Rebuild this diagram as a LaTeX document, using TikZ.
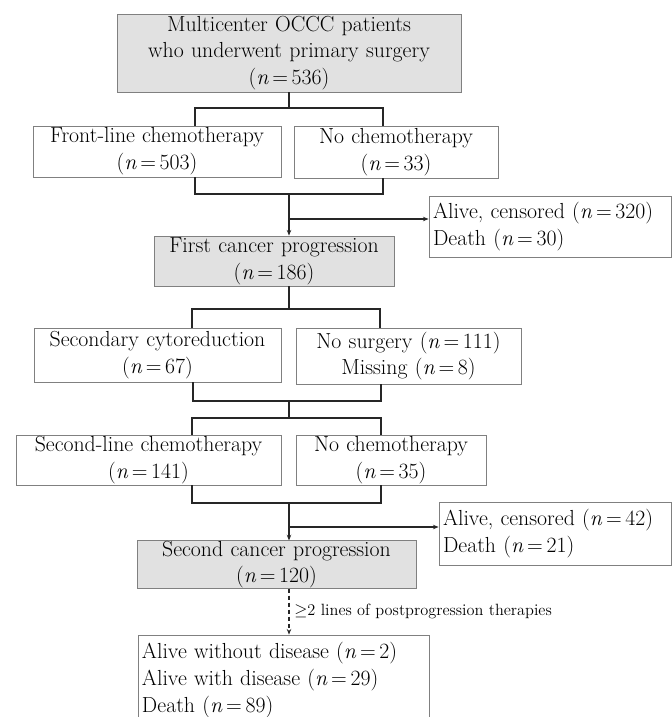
\documentclass[tikz,border=0pt]{standalone}
\usepackage{amsmath,amssymb}
\usepackage{tikz}
\usetikzlibrary{calc, arrows, arrows.meta}
\definecolor{boxgray}{RGB}{225,225,225}
\definecolor{edgegray}{RGB}{128,128,128}
\newcommand{\boxfont}{\fontsize{15.5}{19}\selectfont}
\newcommand{\notefont}{\fontsize{11.6}{14}\selectfont}
\newcommand{\nn}[1]{(\textit{n}\,=\,#1)}
\tikzset{
  box/.style={draw=edgegray, line width=0.6pt, font=\boxfont, align=center, inner xsep=1mm, inner ysep=0pt},
  grey box/.style={box, fill=boxgray},
  side box/.style={box, align=left},
  link/.style={line width=0.8pt, draw=black!85},
  arr/.style={link, -{Stealth[length=4pt,width=3.2pt]}}
}

\begin{document}
\begin{tikzpicture}[x=0.25mm, y=-0.25mm]
  \useasboundingbox (0,0) rectangle (672,717);
  % boxes
  \node[grey box, text width=84mm, minimum height=19.5mm] (top) at (289,53) {Multicenter OCCC patients\\who underwent primary surgery\\\nn{536}};
  \node[box, text width=60mm, minimum height=12.75mm] (fl) at (157,151.5) {Front-line chemotherapy\\\nn{503}};
  \node[box, text width=49mm, minimum height=13mm] (nc) at (396,152) {No chemotherapy\\\nn{33}};
  \node[side box, text width=58.5mm, minimum height=15.25mm] (al) at (550,226.5) {Alive, censored \nn{320}\\Death \nn{30}};
  \node[grey box, text width=58mm, minimum height=12.5mm] (fp) at (274,261) {First cancer progression\\\nn{186}};
  \node[box, text width=59.75mm, minimum height=13.5mm] (sc) at (157.5,355) {Secondary cytoreduction\\\nn{67}};
  \node[box, text width=54.25mm, minimum height=14mm] (ns) at (408.5,356) {No surgery \nn{111}\\Missing \nn{8}};
  \node[box, text width=64.25mm, minimum height=12.5mm] (sl) at (148.5,460) {Second-line chemotherapy\\\nn{141}};
  \node[box, text width=45.5mm, minimum height=12.5mm] (nc2) at (391,460) {No chemotherapy\\\nn{35}};
  \node[side box, text width=56mm, minimum height=15.75mm] (al2) at (555,533.5) {Alive, censored \nn{42}\\Death \nn{21}};
  \node[grey box, text width=67.75mm, minimum height=11.75mm] (sp) at (276.5,564.5) {Second cancer progression\\\nn{120}};
  \node[side box, text width=70.75mm, minimum height=22.5mm] (fin) at (283.5,680) {Alive without disease \nn{2}\\Alive with disease \nn{29}\\Death \nn{89}};
  % junction points
  \coordinate (b1) at (289,108);  \coordinate (b1l) at (195,108); \coordinate (b1r) at (383,108);
  \coordinate (j1) at (289,194);  \coordinate (j1l) at (195,194); \coordinate (j1r) at (383,194);
  \coordinate (s1) at (289,219);
  \coordinate (b2) at (289,309);  \coordinate (b2l) at (192,309); \coordinate (b2r) at (380,309);
  \coordinate (j2) at (289,401);  \coordinate (j2l) at (193,401); \coordinate (j2r) at (381,401);
  \coordinate (b3) at (289,418);  \coordinate (b3l) at (192,418); \coordinate (b3r) at (381,418);
  \coordinate (j3) at (289,503);  \coordinate (j3l) at (192,503); \coordinate (j3r) at (381,503);
  \coordinate (s2) at (289,527);
  % splits
  \draw[link] (top.south) -- (b1);
  \draw[link] (b1l |- fl.north) -- (b1l) -- (b1r) -- (b1r |- nc.north);
  \draw[link] (b2 |- fp.south) -- (b2);
  \draw[link] (b2l |- sc.north) -- (b2l) -- (b2r) -- (b2r |- ns.north);
  \draw[link] (j2) -- (b3);
  \draw[link] (b3l |- sl.north) -- (b3l) -- (b3r) -- (b3r |- nc2.north);
  % merges
  \draw[link] (j1l |- fl.south) -- (j1l) -- (j1r) -- (j1r |- nc.south);
  \draw[link] (j2l |- sc.south) -- (j2l) -- (j2r) -- (j2r |- ns.south);
  \draw[link] (j3l |- sl.south) -- (j3l) -- (j3r) -- (j3r |- nc2.south);
  % arrows
  \draw[arr] (j1) -- (j1 |- fp.north);
  \draw[arr] (s1) -- (s1 -| al.west);
  \draw[arr] (j3) -- (j3 |- sp.north);
  \draw[arr] (s2) -- (s2 -| al2.west);
  \draw[arr, dash pattern=on 3pt off 2pt] (j3 |- sp.south) -- node[midway, right=1.2mm, font=\notefont, inner sep=0pt] {$\geq$2 lines of postprogression therapies} (j3 |- fin.north);
\end{tikzpicture}
\end{document}
